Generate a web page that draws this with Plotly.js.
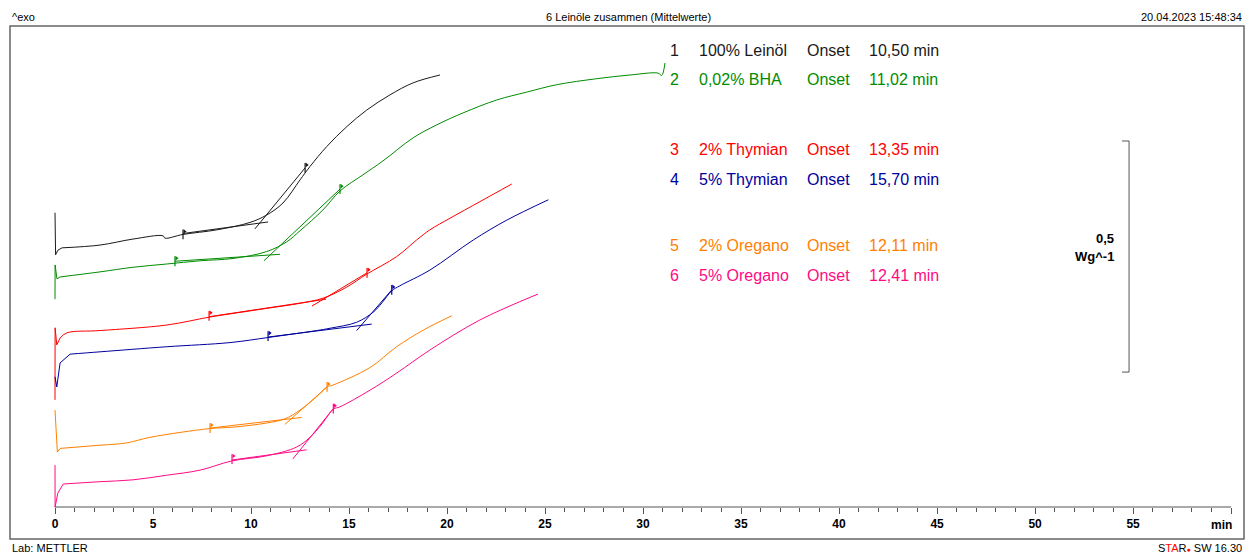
<!DOCTYPE html>
<html><head><meta charset="utf-8">
<script src="https://cdn.plot.ly/plotly-3.0.1.min.js"></script>
<style>html,body{margin:0;padding:0;background:#fff}#chart{width:1252px;height:554px}</style>
</head><body><div id="chart"></div>
<script>
// ---------------- data (time in min, heat flow in W/g, curves offset) ----------------
const sampleNames = ['100% Leinöl','0,02% BHA','2% Thymian','5% Thymian','2% Oregano','5% Oregano'];
const onsetValues = [10.50, 11.02, 13.35, 15.70, 12.11, 12.41];
const seriesColors = ['#1a1a1a','#008c00','#ff0000','#00009c','#ff8000','#ff0a84'];

const tBlack = [0,0.03,0.15,0.36,2.30,3.98,5.51,5.61,6.53,8.27,9.95,10.80,11.63,12.50,13.01,13.86,14.88,15.90,17.09,18.27,19.64];
const yBlack = [0.704,0.613,0.623,0.628,0.634,0.647,0.654,0.649,0.657,0.667,0.683,0.699,0.725,0.775,0.804,0.847,0.890,0.926,0.959,0.985,1.002];

const tGreen = [0,0.005,0.10,0.26,2.30,3.98,5.70,7.40,9.08,10.80,11.82,12.50,13.67,14.54,15.71,16.73,18.27,19.47,20.82,22.54,24.07,25.60,27.64,29.34,30.77,30.95,31.12];
const yGreen = [0.517,0.591,0.561,0.565,0.576,0.586,0.593,0.600,0.605,0.620,0.641,0.665,0.710,0.751,0.786,0.816,0.866,0.894,0.920,0.948,0.965,0.981,0.994,1.002,1.006,1.001,1.028];

const tRed = [0,0.005,0.09,0.26,0.60,2.30,5.70,7.86,9.08,10.80,12.50,13.67,14.88,15.90,17.43,18.45,19.13,20.15,21.68,23.30];
const yRed = [0.299,0.455,0.418,0.433,0.444,0.449,0.461,0.478,0.486,0.497,0.508,0.519,0.543,0.571,0.609,0.645,0.667,0.692,0.728,0.766];

const tBlue = [0,0.09,0.26,0.77,2.30,5.70,8.93,10.87,13.35,14.03,15.39,16.24,16.68,17.18,17.60,19.13,21.34,23.05,25.17];
const yBlue = [0.349,0.327,0.379,0.398,0.403,0.414,0.423,0.434,0.449,0.454,0.467,0.489,0.509,0.535,0.546,0.580,0.645,0.688,0.732];

const tOrange = [0,0.12,0.26,2.30,3.66,4.85,7.91,9.08,10.80,11.73,12.50,13.35,13.88,14.18,16.07,17.43,18.79,20.24];
const yOrange = [0.277,0.186,0.194,0.201,0.206,0.218,0.237,0.240,0.249,0.258,0.277,0.306,0.327,0.331,0.369,0.414,0.450,0.481];

const tPink = [0,0.005,0.14,0.42,2.30,3.98,5.70,7.40,9.03,10.80,12.33,13.01,13.62,14.20,14.54,16.07,17.43,19.13,21.68,24.64];
const yPink = [0.158,0.067,0.097,0.117,0.122,0.126,0.136,0.147,0.167,0.178,0.197,0.218,0.247,0.279,0.284,0.320,0.357,0.407,0.472,0.528];

// evaluation limit flags (t, y)
const flagT = [[6.53,12.76],[6.12,14.54],[7.86,15.92],[10.87,17.18],[7.91,13.88],[9.03,14.20]];
const flagY = [[0.657,0.801],[0.599,0.755],[0.481,0.574],[0.437,0.537],[0.238,0.327],[0.171,0.280]];

// onset construction tangents: baseline [t0,t1],[y0,y1]; steep [t0,t1],[y0,y1]
const baseTanT = [[6.53,10.87],[6.12,11.48],[7.86,13.83],[10.87,16.16],[7.91,12.59],[9.03,12.84]];
const baseTanY = [[0.659,0.684],[0.599,0.614],[0.479,0.517],[0.435,0.463],[0.238,0.261],[0.169,0.191]];
const steepTanT = [[10.20,12.76],[10.66,14.54],[13.11,15.92],[15.39,17.18],[11.73,13.88],[12.13,14.20]];
const steepTanY = [[0.669,0.801],[0.600,0.755],[0.502,0.574],[0.449,0.537],[0.246,0.327],[0.171,0.280]];

const majorTicks = [0,5,10,15,20,25,30,35,40,45,50,55,60];
const majorLabels = ['0','5','10','15','20','25','30','35','40','45','50','55',''];
const scaleBarValue = 0.5;   // W/g

// ---------------- layout helpers ----------------
const L=10, R=1244, T=26, B=539;
const px = v => (v-L)/(R-L);
const py = v => (B-v)/(B-T);
const FONT = 'Arial, "Liberation Sans", sans-serif';
const xRange = [-2.296, 60.66];
const yRange = [-0.002, 1.108];
const yPerPx = (yRange[1]-yRange[0])/(B-T);

const curvesT = [tBlack,tGreen,tRed,tBlue,tOrange,tPink];
const curvesY = [yBlack,yGreen,yRed,yBlue,yOrange,yPink];
const spikePts = 3; // start transient drawn straight, rest smoothed

const traces = [];
curvesT.forEach((tt,i)=>{
  const yy = curvesY[i];
  traces.push({type:'scatter',mode:'lines',x:tt.slice(0,spikePts+1),y:yy.slice(0,spikePts+1),
    line:{color:seriesColors[i],width:1},hoverinfo:'skip',showlegend:false});
  traces.push({type:'scatter',mode:'lines',x:tt.slice(spikePts),y:yy.slice(spikePts),
    line:{color:seriesColors[i],width:1,shape:'spline',smoothing:1},hoverinfo:'skip',showlegend:false});
  traces.push({type:'scatter',mode:'lines',
    x:[baseTanT[i][0],baseTanT[i][1],null,steepTanT[i][0],steepTanT[i][1]],
    y:[baseTanY[i][0],baseTanY[i][1],null,steepTanY[i][0],steepTanY[i][1]],
    line:{color:seriesColors[i],width:1},hoverinfo:'skip',showlegend:false});
});
// flags
const fx=[],fy=[],fc=[],fyTop=[];
flagT.forEach((arr,i)=>arr.forEach((t,j)=>{fx.push(t);fy.push(flagY[i][j]);fyTop.push(flagY[i][j]+3*yPerPx);fc.push(seriesColors[i]);}));
traces.push({type:'scatter',mode:'markers',x:fx,y:fy,marker:{symbol:'line-ns',size:7,line:{color:fc,width:1.2}},hoverinfo:'skip',showlegend:false});
traces.push({type:'scatter',mode:'markers',x:fx.map(v=>v+0.08),y:fyTop,marker:{symbol:'triangle-right',size:4,color:fc},hoverinfo:'skip',showlegend:false});

// ---------------- annotations ----------------
const ann = [];
const txt = (text,x,y,opt={}) => ann.push(Object.assign({text,x,y,xref:'paper',yref:'paper',showarrow:false,
  xanchor:'left',yanchor:'middle',font:{family:FONT,size:11,color:'#000'}},opt));
txt('^exo', px(10), py(17));
txt('6 Leinöle zusammen (Mittelwerte)', px(628), py(17), {xanchor:'center'});
txt('20.04.2023 15:48:34', px(1244), py(17), {xanchor:'right'});
txt('Lab: METTLER', px(10), py(548));
txt('S<span style="color:#ff0000">TA</span>R<span style="color:#ff0000;font-size:7px">●</span> SW 16.30', px(1244), py(548), {xanchor:'right'});

const rowsY = [50.5, 79.5, 149.5, 179.5, 245, 275];
sampleNames.forEach((nm,i)=>{
  const f = {family:FONT,size:16,color:seriesColors[i]};
  txt(String(i+1), px(681), py(rowsY[i]), {xanchor:'right',font:f});
  txt(nm, px(696.5), py(rowsY[i]), {font:f});
  txt('Onset', px(805), py(rowsY[i]), {font:f});
  txt(onsetValues[i].toFixed(2).replace('.',',')+' min', px(866.5), py(rowsY[i]), {font:f});
});
txt('0,5', px(1116), py(238), {xanchor:'right',font:{family:FONT,size:13,color:'#000',weight:'bold'}});
txt('Wg^-1', px(1116), py(256), {xanchor:'right',font:{family:FONT,size:13,color:'#000',weight:'bold'}});
txt('min', px(1234), py(525), {xanchor:'right',font:{family:FONT,size:12,color:'#000',weight:'bold'}});

// ---------------- shapes ----------------
const sbX1 = (1129-55)/19.6, sbX0 = (1122-55)/19.6;
const sbY0 = (538-372)*yPerPx, sbY1 = sbY0 + scaleBarValue;
const shapes = [
  {type:'rect',xref:'paper',yref:'paper',x0:0,x1:1,y0:0,y1:1,line:{color:'#666',width:1.5}},
  {type:'line',xref:'x',yref:'paper',x0:0,x1:60,y0:py(507),y1:py(507),line:{color:'#555',width:1}},
  {type:'path',xref:'x',yref:'y',path:`M ${sbX0},${sbY1} L ${sbX1},${sbY1} L ${sbX1},${sbY0} L ${sbX0},${sbY0}`,line:{color:'#555',width:1}}
];

const minorTicks = [];
for(let k=0;k<=60;k++){ if(k%5!==0) minorTicks.push(k); }

const layout = {
  width:1252,height:554,margin:{l:L,r:1252-R,t:T,b:554-B,pad:0},
  paper_bgcolor:'#fff',plot_bgcolor:'#fff',showlegend:false,
  font:{family:FONT,size:11,color:'#000'},
  xaxis:{range:xRange,anchor:'free',position:py(507),showline:false,showgrid:false,zeroline:false,
    tickmode:'array',tickvals:majorTicks,ticktext:majorLabels,ticks:'outside',ticklen:6,tickwidth:1,tickcolor:'#555',
    tickfont:{family:FONT,size:12,color:'#000',weight:'bold'},
    minor:{tickmode:'array',tickvals:minorTicks,ticks:'outside',ticklen:4,tickwidth:1,tickcolor:'#555',showgrid:false}},
  yaxis:{range:yRange,visible:false,showgrid:false,zeroline:false},
  annotations:ann, shapes:shapes
};
Plotly.newPlot('chart',traces,layout,{displayModeBar:false,staticPlot:true});
</script></body></html>
